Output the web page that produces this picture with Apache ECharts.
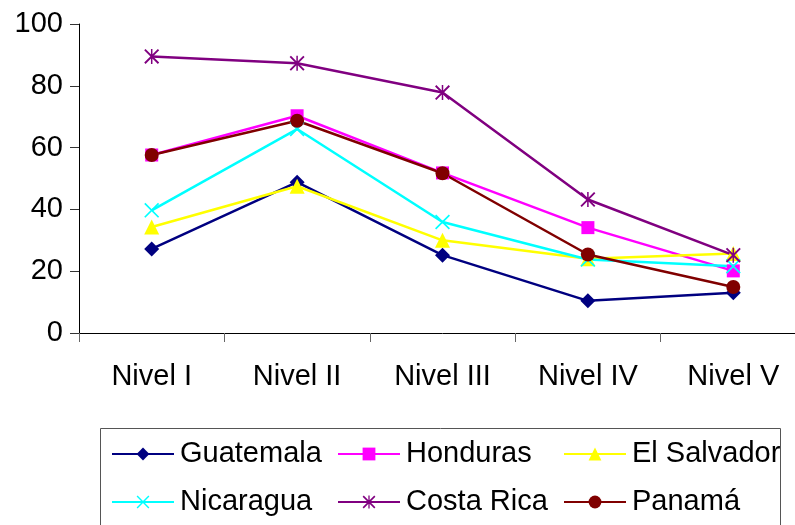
<!DOCTYPE html>
<html>
<head>
<meta charset="utf-8">
<script src="https://cdn.jsdelivr.net/npm/echarts@6/dist/echarts.min.js"></script>
<style>
html,body{margin:0;padding:0;background:#fff;overflow:hidden;width:795px;height:525px;}
#c{width:812px;height:525px;}
</style>
</head>
<body>
<div id="c"></div>
<script>
var categories = ['Nivel I', 'Nivel II', 'Nivel III', 'Nivel IV', 'Nivel V'];
var yTicks = [0, 20, 40, 60, 80, 100];
var guatemala  = [27.2, 48.8, 25.2, 10.4, 13.0];
var honduras   = [57.6, 70.3, 51.8, 34.1, 20.1];
var elSalvador = [34.3, 47.5, 30.0, 24.0, 25.7];
var nicaragua  = [39.7, 66.0, 35.9, 23.8, 21.6];
var costaRica  = [89.5, 87.3, 77.8, 43.2, 25.2];
var panama     = [57.6, 68.7, 51.7, 25.4, 14.9];
var seriesNames = ['Guatemala', 'Honduras', 'El Salvador', 'Nicaragua', 'Costa Rica', 'Panamá'];

var FONT = '"Liberation Sans", Arial, sans-serif';
var xPath = 'path://M0,1.6L1.6,0L20,18.4L18.4,20Z M18.4,0L20,1.6L1.6,20L0,18.4Z';
var starPath = 'path://M9,0L11,0L11,20L9,20Z M0,1.8L1.8,0L20,18.2L18.2,20Z M18.2,0L20,1.8L1.8,20L0,18.2Z';

var defs = [
  {name: seriesNames[0], data: guatemala,  color: '#000080', symbol: 'diamond',  size: 15},
  {name: seriesNames[1], data: honduras,   color: '#FF00FF', symbol: 'rect',     size: 13},
  {name: seriesNames[2], data: elSalvador, color: '#FFFF00', symbol: 'triangle', size: 15},
  {name: seriesNames[3], data: nicaragua,  color: '#00FFFF', symbol: xPath,      size: 15},
  {name: seriesNames[4], data: costaRica,  color: '#800080', symbol: starPath,   size: 15},
  {name: seriesNames[5], data: panama,     color: '#800000', symbol: 'circle',   size: 14}
];

var series = defs.map(function (d) {
  return {
    name: d.name,
    type: 'line',
    data: d.data,
    symbol: d.symbol,
    symbolSize: d.size,
    showAllSymbol: true,
    lineStyle: {color: d.color, width: 2.5},
    itemStyle: {color: d.color, borderWidth: 0},
    emphasis: {disabled: true},
    z: 2
  };
});

var colLeft = [111, 337, 563];
var rowTop = [438, 486];
var legends = defs.map(function (d, i) {
  return {
    data: [d.name],
    left: colLeft[i % 3],
    top: rowTop[Math.floor(i / 3)],
    orient: 'horizontal',
    padding: 0,
    itemWidth: 62,
    itemHeight: 16,
    itemGap: 0,
    selectedMode: false,
    textStyle: {fontFamily: FONT, fontSize: 29, color: '#000', lineHeight: 32, padding: [0, 0, 0, 1]}
  };
});

var chart = echarts.init(document.getElementById('c'), null, {renderer: 'canvas'});
chart.setOption({
  animation: false,
  backgroundColor: '#ffffff',
  grid: {left: 79, top: 24, width: 727, bottom: 192, containLabel: false},
  xAxis: {
    type: 'category',
    data: categories,
    boundaryGap: true,
    axisLine: {show: true, lineStyle: {color: '#000', width: 1}},
    axisTick: {show: true, length: 9, alignWithLabel: false, lineStyle: {color: '#666'}},
    axisLabel: {fontFamily: FONT, fontSize: 29, color: '#000', margin: 29},
    splitLine: {show: false}
  },
  yAxis: {
    type: 'value',
    min: yTicks[0],
    max: yTicks[yTicks.length - 1],
    interval: yTicks[1] - yTicks[0],
    axisLine: {show: true, lineStyle: {color: '#000', width: 1}},
    axisTick: {show: true, length: 9, lineStyle: {color: '#333'}},
    axisLabel: {fontFamily: FONT, fontSize: 29, color: '#000', margin: 16},
    splitLine: {show: false}
  },
  legend: legends,
  graphic: [{
    type: 'rect',
    shape: {x: 100.5, y: 428.5, width: 680, height: 120},
    style: {fill: 'none', stroke: '#555', lineWidth: 1},
    silent: true,
    z: -1
  }],
  series: series
});
</script>
</body>
</html>
